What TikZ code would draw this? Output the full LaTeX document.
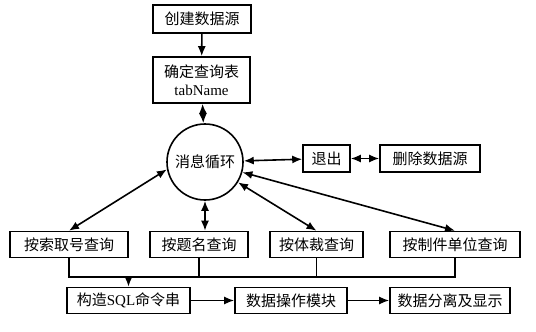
\documentclass[tikz,border=0pt]{standalone}
\usepackage{fontspec}
\setmainfont{Liberation Serif}
\newfontfamily\cjk{Noto Sans CJK SC}
\usetikzlibrary{arrows.meta}

\begin{document}
\begin{tikzpicture}[x=1pt, y=-1pt, >={Latex[length=10pt,width=8pt]}, line width=1.6pt,
	box/.style={draw, inner sep=1pt, minimum height=26pt, font=\fontsize{15}{18}\selectfont\cjk}]

	\useasboundingbox (0,0) rectangle (536,332);

	% === NODES === (((
	\node[box, minimum width=98pt, minimum height=28pt] (create) at (202,19) {创建数据源};
	\node[box, minimum width=97pt, minimum height=46pt, align=center] (table) at (201.5,80)
		{确定查询表\\{\rmfamily tabName}};

	\node[box, circle, minimum size=76pt] (loop) at (205,162) {消息循环};

	\node[box, minimum width=47pt, minimum height=27pt] (quit) at (326.5,158.5) {退出};
	\node[box, minimum width=100pt, minimum height=27pt] (delsrc) at (430,158.5) {删除数据源};

	\node[box, minimum width=118pt] (byno) at (69,244.5) {按索取号查询};
	\node[box, minimum width=98pt] (bytitle) at (199,244.5) {按题名查询};
	\node[box, minimum width=93pt] (bygenre) at (316.5,244.5) {按体裁查询};
	\node[box, minimum width=130pt] (byunit) at (455,244.5) {按制件单位查询};

	\node[box, minimum width=123pt] (sql) at (128.5,300.5) {构造{\rmfamily SQL}命令串};
	\node[box, minimum width=112pt] (dataop) at (291,300.5) {数据操作模块};
	\node[box, minimum width=120pt] (show) at (450,300.5) {数据分离及显示};

	\coordinate (bus) at (128.5,277);
	% )))

	% === LINES === (((
	\draw[->] (create) -- (table);
	\draw[<->] (table) -- (loop);

	\draw[<->] (loop) -- (quit);
	\draw[<->] (quit) -- (delsrc);

	\draw[<->] (loop.191) -- (byno.north);
	\draw[<->] (loop.south) -- (loop.south |- bytitle.north);
	\draw[<->] (loop) -- (bygenre.north);
	\draw[<->] (loop) -- (byunit.north);

	\draw (byno.south) |- (bus) -| (byunit.south);
	\draw (bytitle.south) -- (bytitle.south |- bus);
	\draw (bygenre.south) -- (bygenre.south |- bus);
	\draw[->] (bus) -- (sql);

	\draw[->] (sql) -- (dataop);
	\draw[->] (dataop) -- (show);
	% )))

\end{tikzpicture}
\end{document}
